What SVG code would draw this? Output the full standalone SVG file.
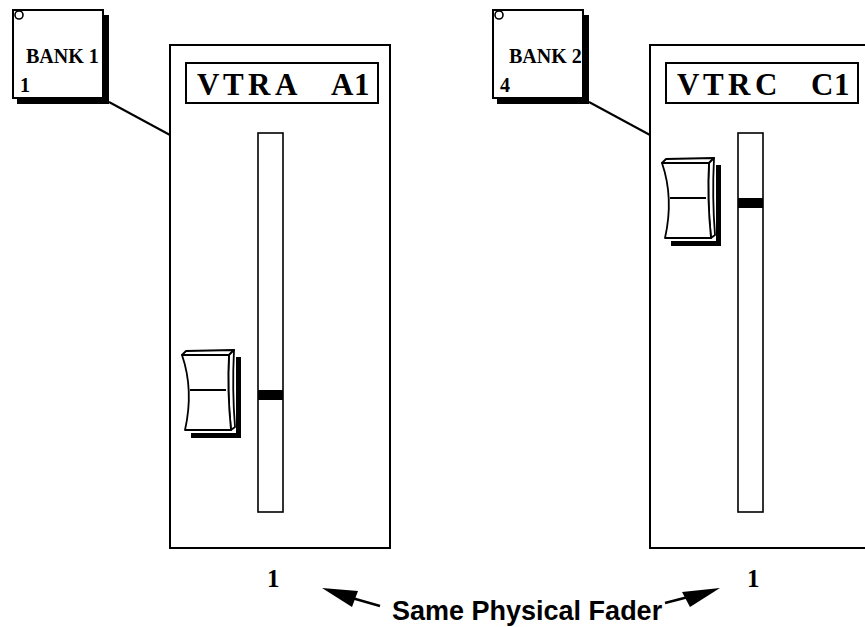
<svg xmlns="http://www.w3.org/2000/svg" width="865" height="627" viewBox="0 0 865 627">
<style>
.ln{fill:none;stroke:#000;stroke-width:2}
.box{fill:#fff;stroke:#000;stroke-width:2}
.slot{fill:#fff;stroke:#000;stroke-width:1.6}
.blk{fill:#000}
.ser{font-family:"Liberation Serif","Times New Roman",serif;font-weight:bold;fill:#000}
.bank{font-size:20px}
.big{font-size:31px}
.num{font-size:25px}
.cap{font-family:"Liberation Sans",Arial,sans-serif;font-weight:bold;font-size:27px;fill:#000}
.kn{fill:#fff;stroke:#000;stroke-width:1.8;stroke-linejoin:round}
</style>
<defs>
<g id="knob">
<path class="blk" d="M54,7 L59,7 L59,88 L9,88 L9,83 L54,83 Z"/>
<path class="kn" d="M0,5 L4,1 L52,0 L47,5 Z"/>
<path class="kn" d="M47,5 L52,0 Q50,40 53,77 L49,80 Q45,40 47,5 Z"/>
<path class="kn" d="M0,5 L47,5 Q45,40 49,80 L3,80 Q12,40 0,5 Z"/>
<line x1="8" y1="40" x2="44" y2="40" stroke="#000" stroke-width="1.8"/>
</g>
<g id="bankbox">
<path class="blk" d="M90,5 L96,5 L96,94 L4,94 L4,88 L90,88 Z"/>
<rect class="box" x="0" y="0" width="90" height="88"/>
<circle cx="6" cy="5" r="4" fill="#fff" stroke="#000" stroke-width="1.6"/>
</g>
</defs>

<g id="connectors">
<line class="ln" x1="109" y1="102" x2="170" y2="135"/>
<line class="ln" x1="589" y1="102" x2="650" y2="135"/>
<line x1="380" y1="606" x2="352" y2="598" stroke="#000" stroke-width="2.5"/>
<polygon class="blk" points="322,588 358,591 352,607"/>
<line x1="665" y1="603" x2="692" y2="596" stroke="#000" stroke-width="2.5"/>
<polygon class="blk" points="720,588 682,592 690,607"/>
</g>

<g id="bank1">
<use href="#bankbox" x="13" y="10"/>
<text class="ser bank" x="26" y="63">BANK 1</text>
<text class="ser bank" x="20" y="92">1</text>
</g>

<g id="bank2">
<use href="#bankbox" x="493" y="10"/>
<text class="ser bank" x="509" y="63">BANK 2</text>
<text class="ser bank" x="500" y="92">4</text>
</g>

<g id="panel-a">
<rect class="box" x="170" y="45" width="220" height="503"/>
<rect class="box" x="186" y="63" width="192" height="40"/>
<text class="ser big" y="95"><tspan x="197">V</tspan><tspan x="223">T</tspan><tspan x="248">R</tspan><tspan x="275">A</tspan><tspan x="331">A</tspan><tspan x="354">1</tspan></text>
<rect class="slot" x="258" y="133" width="25" height="379"/>
<rect class="blk" x="258" y="390" width="25" height="10"/>
<use href="#knob" x="182" y="350"/>
</g>

<g id="panel-c">
<rect class="box" x="650" y="45" width="220" height="503"/>
<rect class="box" x="666" y="63" width="192" height="40"/>
<text class="ser big" y="95"><tspan x="677">V</tspan><tspan x="703">T</tspan><tspan x="728">R</tspan><tspan x="755">C</tspan><tspan x="811">C</tspan><tspan x="834">1</tspan></text>
<rect class="slot" x="738" y="133" width="25" height="379"/>
<rect class="blk" x="738" y="198" width="25" height="10"/>
<use href="#knob" x="662" y="158"/>
</g>

<g id="labels">
<text class="ser num" x="267" y="587">1</text>
<text class="ser num" x="747" y="587">1</text>
<text class="cap" x="392" y="620">Same Physical Fader</text>
</g>
</svg>
